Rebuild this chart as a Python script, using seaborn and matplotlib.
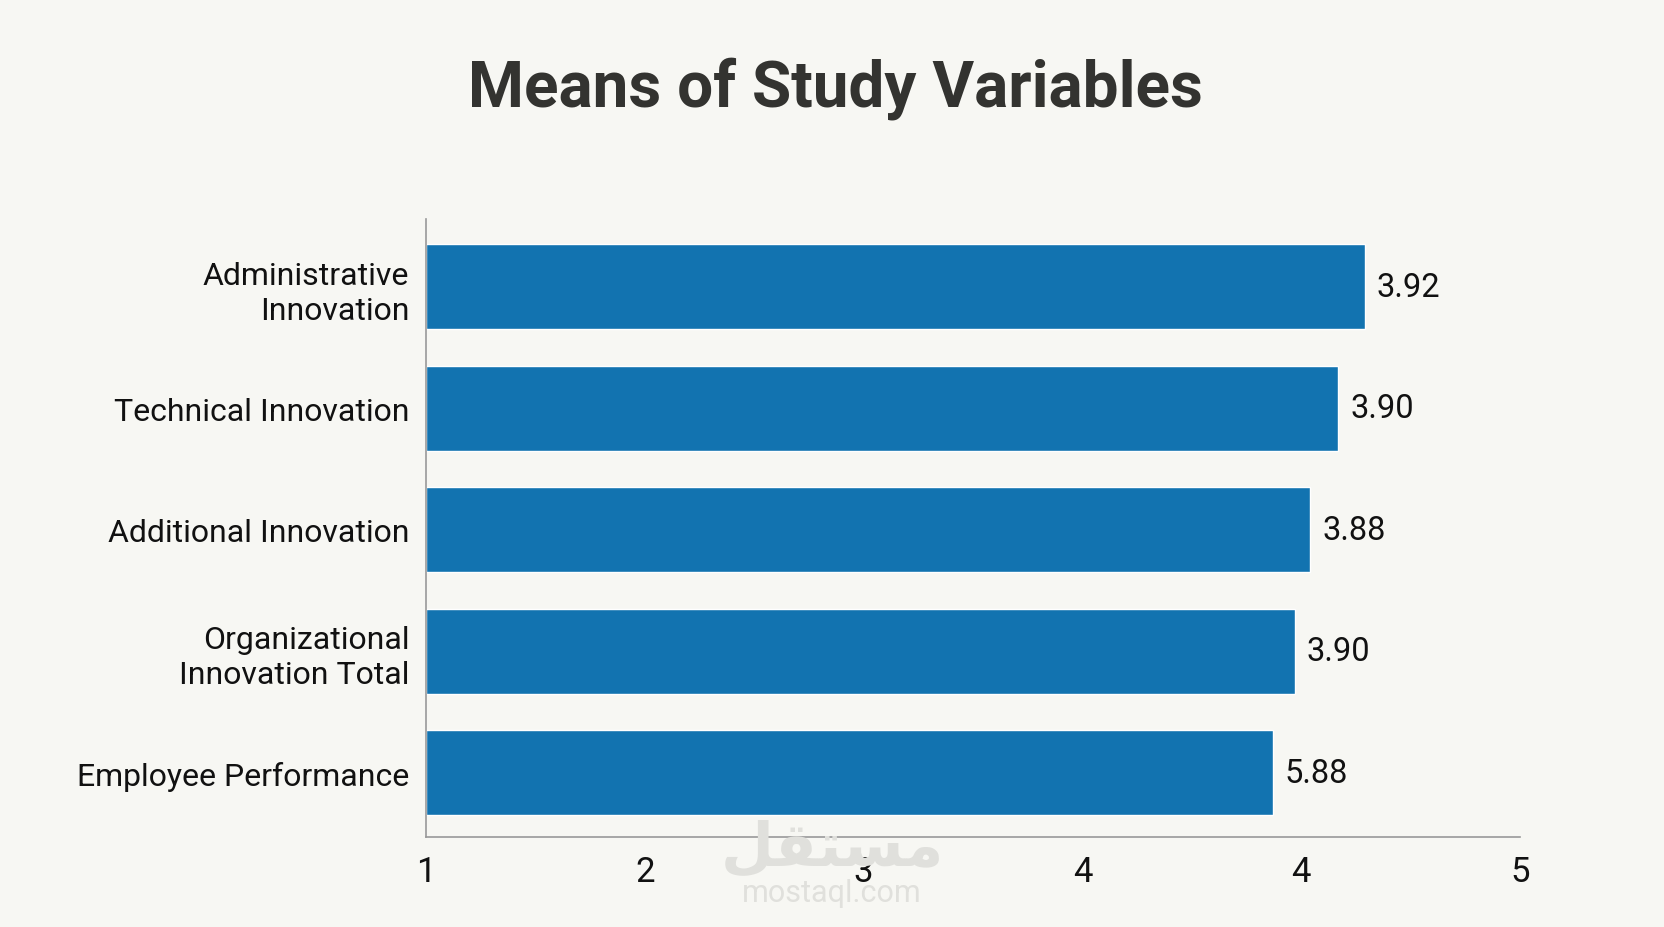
import matplotlib
matplotlib.use("Agg")
import matplotlib.pyplot as plt
import pandas as pd
import seaborn as sns

# values
categories = ["Administrative\nInnovation", "Technical Innovation", "Additional Innovation",
              "Organizational\nInnovation Total", "Employee Performance"]
bar_ends = [5.29, 5.17, 5.04, 4.97, 4.87]        # where each bar stops on the axis
value_labels = ["3.92", "3.90", "3.88", "3.90", "5.88"]
tick_pos = [1, 2, 3, 4, 5, 6]
tick_labels = ["1", "2", "3", "4", "4", "5"]

bg = "#f7f7f3"
bar_color = "#1273b0"

df = pd.DataFrame({"variable": categories, "mean": bar_ends})

sns.set_theme(style="white")
plt.rcParams["font.family"] = ["Roboto", "DejaVu Sans"]

fig = plt.figure(figsize=(16.64, 9.28), dpi=100, facecolor=bg)
ax = fig.add_axes([0.256, 0.097, 0.6575, 0.666])
ax.set_facecolor(bg)

# bars start at the left edge of the axis (value 1)
sns.barplot(data=df, y="variable", x="mean", orient="h", color=bar_color,
            saturation=1, width=0.70, ax=ax, left=1)
for p in ax.patches:
    p.set_width(p.get_width() - 1)

for i, (end, lab) in enumerate(zip(bar_ends, value_labels)):
    ax.text(end + 0.055, i, lab, va="center", ha="left", fontsize=23.5, color="#111111")

ax.set_xlim(1, 6)
ax.set_ylim(4.53, -0.56)
ax.set_xticks(tick_pos)
ax.set_xticklabels(tick_labels, fontsize=25, color="#111111")
ax.tick_params(axis="x", length=6, width=1, color="#888888", pad=7, direction="out")
ax.tick_params(axis="y", length=0, pad=12, labelsize=23, labelcolor="#111111")
for lab in ax.get_yticklabels():
    lab.set_multialignment("right")
    lab.set_linespacing(1.25)
ax.set_xlabel("")
ax.set_ylabel("")
sns.despine(ax=ax)
ax.spines["left"].set_color("#999999")
ax.spines["bottom"].set_color("#999999")
ax.spines["left"].set_linewidth(1.2)
ax.spines["bottom"].set_linewidth(1.2)

fig.text(0.502, 0.905, "Means of Study Variables", ha="center", va="center",
         fontsize=46, fontweight="bold", color="#333330")

# faint watermark
fig.text(0.5, 0.085, "\uFEDE\uFED8\uFE98\uFEB4\uFEE3", ha="center", va="center",
         fontsize=44, color="#e0e0dc", family=["DejaVu Sans"], fontweight="bold", zorder=0)
fig.text(0.5, 0.037, "mostaql.com", ha="center", va="center",
         fontsize=22, color="#e0e0dc", zorder=0)

fig.savefig("out.png", dpi=100, facecolor=bg)
